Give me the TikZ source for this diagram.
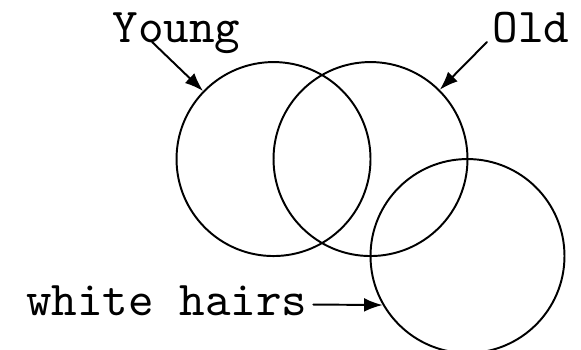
\documentclass[tikz,border=0pt]{standalone}
\usetikzlibrary{arrows.meta}
\begin{document}
\begin{tikzpicture}[x=0.7cm, y=0.7cm]
% Three overlapping sets with their labels
\def\setrad{0.7cm}
\providecommand{\vennLineWidth}{0.4pt}
\tikzset{
  setcircle/.style={circle, draw, line width=\vennLineWidth, minimum size=2*\setrad, inner sep=0pt},
  setlabel/.style={font=\ttfamily, inner sep=1pt},
  pointer/.style={-{Latex[length=3.8pt,width=2.8pt]}, line width=\vennLineWidth}
}
\useasboundingbox (-2.82,-1.96) rectangle (3.17,1.64);
\clip (-2.82,-1.96) rectangle (3.17,1.64);
\begin{scope}[line cap=round, line join=round]
  % Sets
  \node[setcircle] (youngset) at (0,0) {};
  \node[setcircle] (oldset) at (1,0) {};
  \node[setcircle] (whiteset) at (2,-1) {};
  % Labels
  \node[setlabel, anchor=base] (young) at (-1,1.206) {Young};
  \node[setlabel, anchor=base west] (old) at (2.2,1.206) {Old};
  \node[setlabel, anchor=mid east] (white) at (0.41,-1.5) {white hairs};
  % Pointers
  \draw[pointer] ([xshift=-0.5em]young.base) -- (youngset.136);
  \draw[pointer] (old.base west) -- (oldset.45);
  \draw[pointer] (white.mid east) -- (whiteset.210);
\end{scope}
\end{tikzpicture}
\end{document}
